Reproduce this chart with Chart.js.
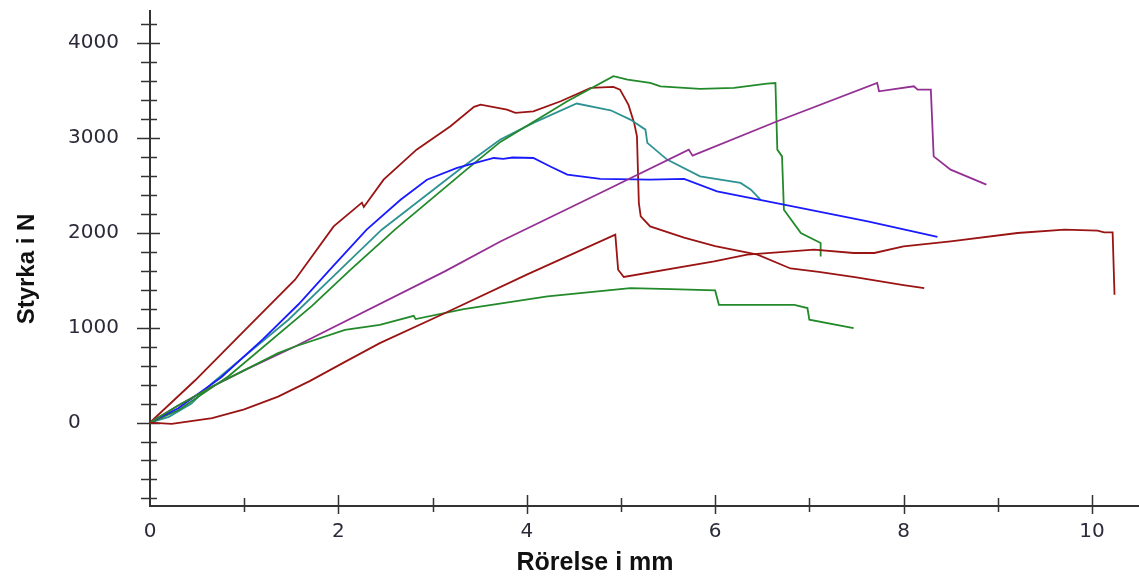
<!DOCTYPE html>
<html>
<head>
<meta charset="utf-8">
<script src="https://cdn.jsdelivr.net/npm/chart.js@4"></script>
<style>
  html, body { margin: 0; padding: 0; background: #fff; }
  #wrap { width: 1139px; height: 576px; }
</style>
</head>
<body>
<div id="wrap"><canvas id="chart"></canvas></div>
<script>
// axis titles and tick labels
const xTitle = "Rörelse i mm";
const yTitle = "Styrka i N";
const xLabels = [0, 2, 4, 6, 8, 10];
const yLabels = [0, 1000, 2000, 3000, 4000];

// series (x in mm, y in N)
const red1X = [0, 0.48, 1.01, 1.54, 1.95, 2.25, 2.27, 2.48, 2.83, 3.19, 3.44, 3.51, 3.79, 3.88, 4.07, 4.36, 4.68, 4.92, 4.99, 5.08, 5.14, 5.17, 5.19, 5.21, 5.31, 5.67, 6.0, 6.45, 6.8, 7.1, 7.5, 8.0, 8.22];
const red1Y = [0, 446, 978, 1506, 2069, 2319, 2273, 2561, 2878, 3124, 3329, 3353, 3300, 3265, 3282, 3388, 3529, 3540, 3511, 3350, 3160, 3018, 2315, 2174, 2069, 1950, 1860, 1770, 1625, 1590, 1530, 1450, 1418];

const blueX = [0, 0.3, 0.76, 1.2, 1.58, 1.91, 2.3, 2.66, 2.94, 3.26, 3.65, 3.75, 3.85, 4.07, 4.25, 4.43, 4.78, 5.31, 5.67, 6.02, 6.73, 7.62, 8.36];
const blueY = [0, 150, 480, 880, 1250, 1612, 2034, 2350, 2561, 2685, 2790, 2780, 2795, 2790, 2700, 2614, 2569, 2561, 2569, 2438, 2298, 2121, 1957];

const tealX = [0, 0.2, 0.44, 0.66, 1.47, 2.02, 2.46, 3.33, 3.72, 4.07, 4.53, 4.85, 4.89, 5.1, 5.26, 5.28, 5.49, 5.84, 6.27, 6.38, 6.48];
const tealY = [0, 60, 200, 416, 1084, 1612, 2034, 2702, 2985, 3160, 3364, 3300, 3293, 3195, 3089, 2949, 2773, 2596, 2527, 2456, 2350];

const green1X = [0, 0.3, 0.83, 1.72, 2.13, 2.6, 3.36, 3.72, 4.43, 4.92, 5.07, 5.31, 5.42, 5.84, 6.2, 6.55, 6.64, 6.66, 6.71, 6.73, 6.91, 7.12, 7.12];
const green1Y = [0, 130, 485, 1230, 1612, 2034, 2667, 2960, 3388, 3652, 3617, 3582, 3546, 3519, 3530, 3575, 3580, 2878, 2807, 2245, 1999, 1893, 1752];

const purpleX = [0, 0.3, 0.66, 1.01, 1.54, 3.13, 3.72, 4.78, 5.72, 5.76, 6.66, 7.72, 7.74, 8.11, 8.15, 8.29, 8.32, 8.5, 8.88];
const purpleY = [0, 180, 380, 556, 802, 1594, 1910, 2421, 2878, 2815, 3177, 3582, 3493, 3546, 3511, 3511, 2807, 2667, 2509];

const green2X = [0, 0.3, 0.66, 1.01, 1.36, 1.54, 2.07, 2.44, 2.8, 2.82, 3.33, 4.22, 5.1, 5.53, 6.0, 6.04, 6.84, 6.98, 7.0, 7.47];
const green2Y = [0, 180, 380, 556, 732, 802, 978, 1030, 1126, 1091, 1197, 1330, 1418, 1408, 1393, 1242, 1242, 1207, 1084, 996];

const red2X = [0, 0.23, 0.66, 1.0, 1.36, 1.7, 2.07, 2.44, 3.1, 4.0, 4.94, 4.97, 5.03, 5.99, 6.34, 7.05, 7.47, 7.69, 8.0, 8.5, 9.21, 9.71, 10.06, 10.13, 10.22, 10.24];
const red2Y = [0, -14, 46, 140, 274, 440, 640, 838, 1140, 1560, 1981, 1612, 1535, 1699, 1770, 1823, 1788, 1788, 1858, 1910, 1999, 2034, 2023, 2005, 2005, 1348];

const axisColor = "#333333";

function pts(xs, ys) {
  return xs.map((x, i) => ({ x: x, y: ys[i] }));
}

function line(xs, ys, color) {
  return {
    data: pts(xs, ys),
    borderColor: color,
    borderWidth: 1.8,
    pointRadius: 0,
    tension: 0,
    fill: false
  };
}

// crossing tick marks and axis titles
const axisExtras = {
  id: "axisExtras",
  beforeDatasetsDraw(chart) {
    const { ctx, chartArea, scales: { x, y } } = chart;
    ctx.save();
    ctx.strokeStyle = axisColor;
    ctx.lineWidth = 1.5;
    for (let v = -800; v <= 4200; v += 200) {
      const py = Math.round(y.getPixelForValue(v)) + 0.5;
      const major = v % 1000 === 0;
      ctx.beginPath();
      ctx.moveTo(chartArea.left - (major ? 13 : 9), py);
      ctx.lineTo(chartArea.left + (major ? 10 : 7), py);
      ctx.stroke();
    }
    for (let v = 1; v <= 10; v++) {
      const px = Math.round(x.getPixelForValue(v)) + 0.5;
      const major = v % 2 === 0;
      ctx.beginPath();
      ctx.moveTo(px, chartArea.bottom - (major ? 11 : 8));
      ctx.lineTo(px, chartArea.bottom + (major ? 8 : 6));
      ctx.stroke();
    }
    ctx.restore();
  },
  afterDraw(chart) {
    const { ctx } = chart;
    ctx.save();
    ctx.fillStyle = "#111111";
    ctx.font = "bold 25px 'Liberation Sans', Arial, sans-serif";
    ctx.textAlign = "center";
    ctx.textBaseline = "middle";
    ctx.fillText(xTitle, 595, 563);
    ctx.font = "bold 24px 'Liberation Sans', Arial, sans-serif";
    ctx.translate(27, 269);
    ctx.rotate(-Math.PI / 2);
    ctx.fillText(yTitle, 0, 0);
    ctx.restore();
  }
};

new Chart(document.getElementById("chart"), {
  type: "line",
  data: {
    datasets: [
      line(red2X, red2Y, "#9a1414"),
      line(green2X, green2Y, "#228a2a"),
      line(purpleX, purpleY, "#943094"),
      line(blueX, blueY, "#1a1aff"),
      line(green1X, green1Y, "#228a2a"),
      line(tealX, tealY, "#2f9292"),
      line(red1X, red1Y, "#9a1414")
    ]
  },
  options: {
    responsive: true,
    maintainAspectRatio: false,
    animation: false,
    layout: { padding: { left: 68, top: 11, right: 0, bottom: 0 } },
    plugins: { legend: { display: false }, tooltip: { enabled: false } },
    scales: {
      x: {
        type: "linear",
        min: 0,
        max: 10.5,
        grid: { drawOnChartArea: false, drawTicks: false },
        border: { display: true, color: axisColor, width: 2 },
        afterBuildTicks: (s) => { s.ticks = xLabels.map((v) => ({ value: v })); },
        ticks: {
          autoSkip: false,
          maxRotation: 0,
          padding: 14,
          color: "#2a2a3a",
          font: { family: "'DejaVu Sans'", size: 20 },
          callback: (v) => String(v)
        },
        afterFit: (s) => { s.height = 70; s.paddingRight = 0; }
      },
      y: {
        type: "linear",
        min: -880,
        max: 4340,
        grid: { drawOnChartArea: false, drawTicks: false },
        border: { display: true, color: axisColor, width: 2 },
        afterBuildTicks: (s) => { s.ticks = yLabels.map((v) => ({ value: v })); },
        ticks: {
          autoSkip: false,
          crossAlign: "far",
          color: "#2a2a3a",
          font: { family: "'DejaVu Sans'", size: 20 },
          callback: (v) => String(v)
        },
        afterFit: (s) => { s.width = 82; s.paddingTop = 0; }
      }
    }
  },
  plugins: [axisExtras]
});
</script>
</body>
</html>
